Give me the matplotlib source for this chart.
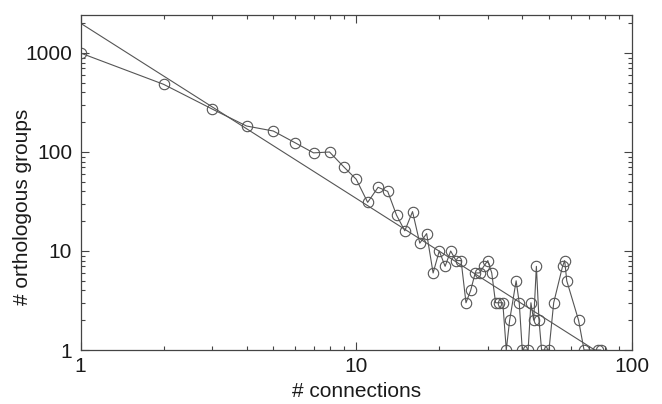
import numpy as np
import matplotlib
matplotlib.use("Agg")
import matplotlib.pyplot as plt
from matplotlib.ticker import LogLocator, NullFormatter, FixedLocator, FixedFormatter

plt.rcParams['font.family'] = ['Liberation Sans', 'DejaVu Sans']

# number of connections and number of orthologous groups
connections = [1, 2, 3, 4, 5, 6, 7, 8, 9, 10,
               11, 12, 13, 14, 15, 16, 17, 18, 19, 20,
               21, 22, 23, 24, 25, 26, 27, 28, 29, 30,
               31, 32, 33, 34, 35, 36, 38, 39, 40, 42,
               43, 44, 45, 46, 47, 50, 52, 56, 57, 58,
               64, 67, 75, 77]
groups = [1000, 483, 272, 183, 163, 124, 98, 100, 71, 53,
          31, 44, 40, 23, 16, 25, 12, 15, 6, 10,
          7, 10, 8, 8, 3, 4, 6, 6, 7, 8,
          6, 3, 3, 3, 1, 2, 5, 3, 1, 1,
          3, 2, 7, 2, 1, 1, 3, 7, 8, 5,
          2, 1, 1, 1]

# power-law fit  y = A * x^K
FIT_A = 2000.0
FIT_K = -1.77

x_ticks = [1, 10, 100]
y_ticks = [1, 10, 100, 1000]

fig = plt.figure(figsize=(6.62, 4.04), dpi=100)
# [left, bottom, width, height] in figure co-ordinates
ax = fig.add_axes([80.5 / 662, 1 - 350 / 404, 551.5 / 662, 335 / 404])

gray = '#555555'
ax.plot(connections, groups, color=gray, lw=0.8, marker='o', ms=7.5,
        mfc='none', mec=gray, mew=0.8)

xf = np.array([1, 80])
ax.plot(xf, FIT_A * xf ** FIT_K, color=gray, lw=0.8)

ax.set_xscale('log')
ax.set_yscale('log')
ax.set_xlim(1, 100)
ax.set_ylim(1, 2420)

ax.xaxis.set_major_locator(FixedLocator(x_ticks))
ax.xaxis.set_major_formatter(FixedFormatter([str(t) for t in x_ticks]))
ax.yaxis.set_major_locator(FixedLocator(y_ticks))
ax.yaxis.set_major_formatter(FixedFormatter([str(t) for t in y_ticks]))
ax.xaxis.set_minor_locator(LogLocator(base=10, subs=np.arange(2, 10)))
ax.yaxis.set_minor_locator(LogLocator(base=10, subs=np.arange(2, 10)))
ax.xaxis.set_minor_formatter(NullFormatter())
ax.yaxis.set_minor_formatter(NullFormatter())

for s in ax.spines.values():
    s.set_color('#444444')
    s.set_linewidth(0.9)

ax.tick_params(which='both', direction='in', top=True, right=True,
               color='#444444', width=0.8)
ax.tick_params(which='major', length=5.5, labelsize=15, labelcolor='#1a1a1a')
ax.tick_params(which='minor', length=3)
ax.tick_params(axis='x', which='major', pad=5)
ax.tick_params(axis='y', which='major', pad=6)

fig.text(356.5 / 662, 1 - 397 / 404, '# connections', ha='center',
         va='baseline', fontsize=15, color='#1a1a1a')
fig.text(23 / 662, 1 - 207 / 404, '# orthologous groups', ha='center',
         va='center', rotation=90, fontsize=15, color='#1a1a1a')

fig.savefig('out.png', dpi=100)
